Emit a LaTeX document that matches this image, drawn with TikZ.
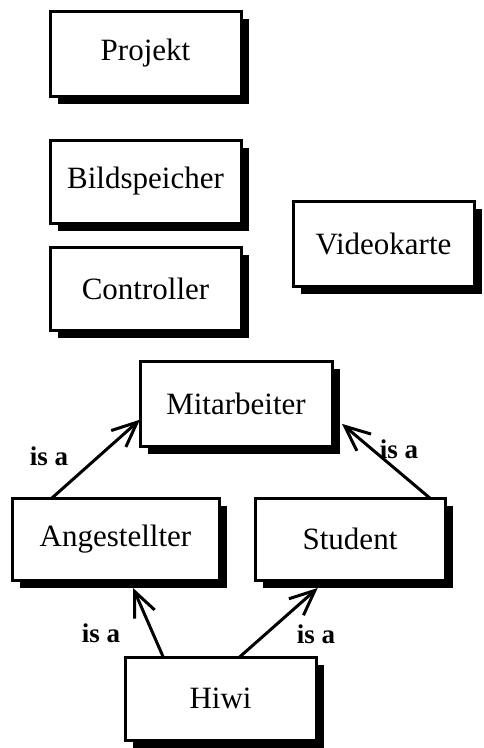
\documentclass[tikz,border=0pt]{standalone}
\usepackage{fontspec}
\setmainfont{Liberation Serif}
\usetikzlibrary{calc,shadows,arrows.meta}

\begin{document}
\begin{tikzpicture}[x=1pt,y=-1pt,
  entity/.style={draw=black, line width=3pt, fill=white, outer sep=0pt,
    inner sep=0pt, font=\fontsize{31}{35}\selectfont,
    drop shadow={shadow xshift=8pt, shadow yshift=-8pt, fill=black, opacity=1}},
  isa/.style={-{Straight Barb[length=25pt,width=22pt,line width=3pt]}, line width=3pt},
  isalabel/.style={font=\fontsize{27}{30}\selectfont\bfseries, inner sep=0pt}]

\useasboundingbox (0,0) rectangle (484,748);

% class boxes
\node[entity, minimum width=191pt, minimum height=85pt] (proj)  at (145.5,53.5)  {Projekt};
\node[entity, minimum width=191pt, minimum height=83pt] (bild)  at (145.5,181.5) {Bildspeicher};
\node[entity, minimum width=191pt, minimum height=83pt] (ctrl)  at (145.5,288.5) {Controller};
\node[entity, minimum width=181pt, minimum height=85pt] (video) at (383.5,243.5) {Videokarte};
\node[entity, minimum width=192pt, minimum height=85pt] (mit)   at (236,403.5)   {Mitarbeiter};
\node[entity, minimum width=207pt, minimum height=82pt] (ang)   at (115.5,539)   {Angestellter};
\node[entity, minimum width=190pt, minimum height=82pt] (stud)  at (350,539)     {Student};
\node[entity, minimum width=191pt, minimum height=83pt] (hiwi)  at (220.5,698.5) {Hiwi};

% generalisation arrows
\draw[isa] ($(ang.north west)!0.193!(ang.north east)$)
        -- ($(mit.north west)!0.69!(mit.south west)$);
\draw[isa] ($(stud.north west)!0.92!(stud.north east)$)
        -- ($(mit.north east)!0.74!(mit.south east) + (10,0)$);
\draw[isa] ($(hiwi.north west)!0.2!(hiwi.north east)$)
        -- ($(ang.south west)!0.585!(ang.south east) + (0,8)$);
\draw[isa] ($(hiwi.north west)!0.6!(hiwi.north east)$)
        -- ($(stud.south west)!0.33!(stud.south east) + (0,8)$);

% labels
\node[isalabel] (l1) at (49,456)  {is a};
\node[isalabel] (l2) at (399,449) {is a};
\node[isalabel] (l3) at (101,633) {is a};
\node[isalabel] (l4) at (316,634) {is a};
\end{tikzpicture}
\end{document}
